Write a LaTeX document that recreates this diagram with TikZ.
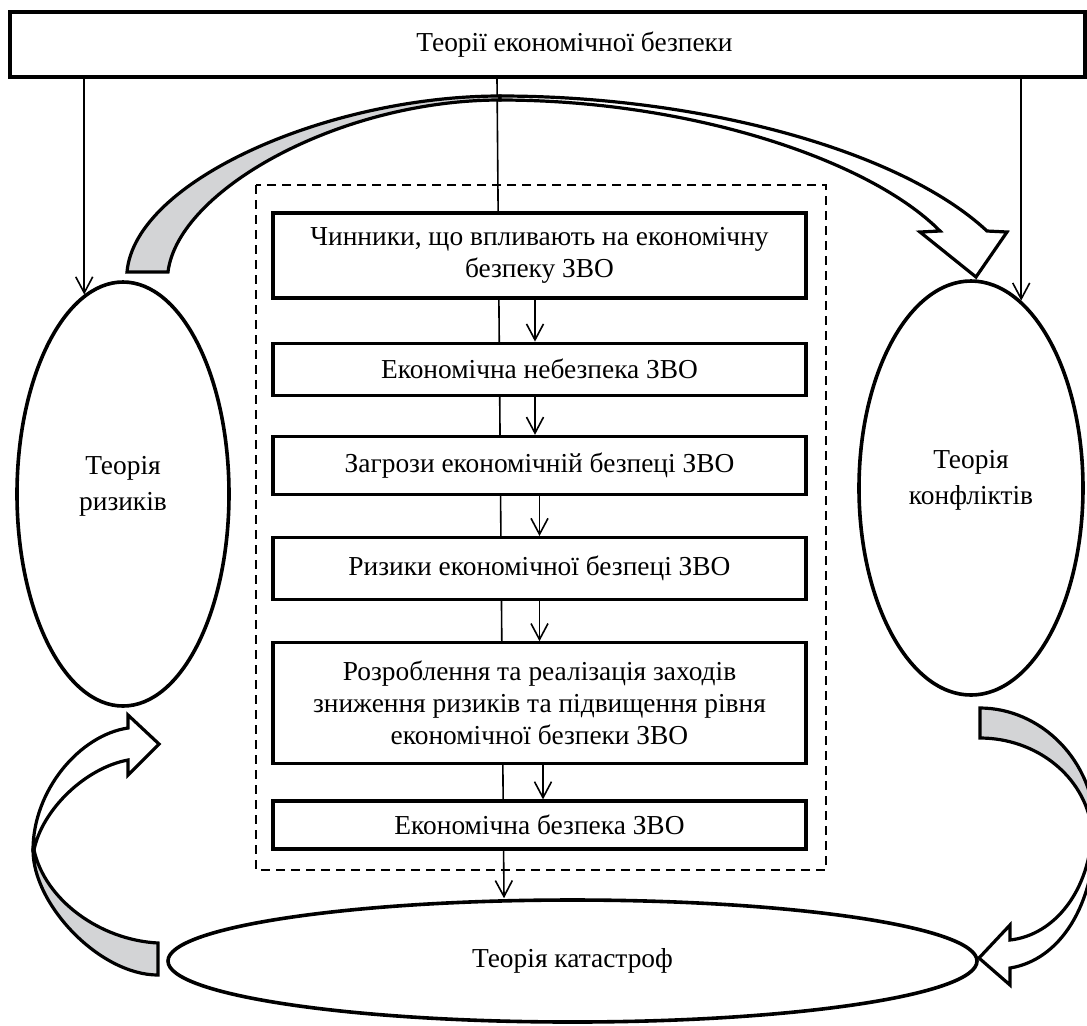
\documentclass[tikz,border=0pt]{standalone}
\usepackage{fontspec}
\setmainfont{Liberation Serif}
\usetikzlibrary{arrows.meta, positioning, shapes.geometric, calc, backgrounds}
\definecolor{backface}{RGB}{211,212,214}

\begin{document}
\begin{tikzpicture}[
    x=0.5pt, y=-0.5pt,
    font=\fontsize{13.7}{16}\selectfont,
    stagebox/.style={
        draw, rectangle, line width=1.6pt, fill=white, align=center,
        minimum width=266.5pt, inner sep=0pt
    },
    widebox/.style={
        draw, rectangle, line width=1.6pt, align=center,
        minimum width=537.5pt, minimum height=32.5pt
    },
    theory/.style={
        draw, ellipse, line width=1.8pt, inner sep=0pt
    },
    theorytext/.style={
        align=center, yshift=4pt, font=\fontsize{13.7}{18}\selectfont
    },
    line/.style={draw, -{Straight Barb[length=8pt,width=8.5pt]}, line width=0.8pt},
    frame/.style={draw, dash pattern=on 4.5pt off 3pt, line width=0.6pt},
    blockback/.style={draw, line width=1.6pt, fill=backface},
    blockfront/.style={draw, line width=1.6pt, fill=white}
]
    \useasboundingbox (0,0) rectangle (1087,1025);

    \node[widebox] (Theories) at (547.5,44.5) {\hspace*{27pt}Теорії економічної безпеки};

    % main chain inside the dashed frame
    \node[stagebox, minimum height=42.5pt] (Factors) at (539.5,255.5) {Чинники, що впливають на економічну\\безпеку ЗВО};
    \node[stagebox, minimum height=26pt, below=21pt of Factors] (Danger) {Економічна небезпека ЗВО};
    \node[stagebox, minimum height=29pt, below=19pt of Danger] (Threats) {Загрози економічній безпеці ЗВО};
    \node[stagebox, minimum height=31pt, below=20pt of Threats] (Risks) {Ризики економічної безпеці ЗВО};
    \node[stagebox, minimum height=60.5pt, below=20pt of Risks] (Measures) {Розроблення та реалізація заходів\\зниження ризиків та підвищення рівня\\економічної безпеки ЗВО};
    \node[stagebox, minimum height=24pt, below=17pt of Measures] (Security) {Економічна безпека ЗВО};

    \node[theory, minimum width=106pt, minimum height=212pt,
          label={[theorytext]center:Теорія\\ризиків}] (RiskTheory) at (123,494) {};
    \node[theory, minimum width=112pt, minimum height=207pt,
          label={[theorytext]center:Теорія\\конфліктів}] (ConflictTheory) at (971,488) {};
    \node[theory, minimum width=404.5pt, minimum height=61pt] (CatastropheTheory) at (572.5,961) {Теорія катастроф};

    \draw[frame] (256,185) rectangle (826,870);

    \begin{scope}[on background layer]
        \draw[line] ([xshift=-25.25pt]Theories.south) -- ([xshift=-34.25pt]CatastropheTheory.north);
    \end{scope}
    \draw[line] (Theories.south -| RiskTheory.101) -- (RiskTheory.101);
    \draw[line] (Theories.south -| ConflictTheory.75) -- (ConflictTheory.75);
    \draw[line] ([xshift=-2.25pt]Factors.south) -- ([xshift=-2.25pt]Danger.north);
    \draw[line] ([xshift=-2.25pt]Danger.south) -- ([xshift=-2.25pt]Threats.north);
    \draw[line] (Threats.south) -- (Risks.north);
    \draw[line] (Risks.south) -- (Measures.north);
    \draw[line] ([xshift=1.75pt]Measures.south) -- ([xshift=1.75pt]Security.north);

    % curved block arrows
    \draw[blockback] (127,272) .. controls (135,180) and (330,96) .. (500,96)
        -- (500,100) .. controls (340,100) and (178,190) .. (168,272) -- cycle;
    \draw[blockfront] (500,96) .. controls (700,96) and (900,150) .. (987,231)
        -- (1007,232) -- (976,277) -- (920,232) -- (940,231)
        .. controls (870,160) and (690,100) .. (500,100) -- cycle;

    \draw[blockback] (158,975) .. controls (100,975) and (33,905) .. (33,850)
        -- (34,850) .. controls (45,900) and (100,940) .. (158,943) -- cycle;
    \draw[blockfront] (33,850) .. controls (33,790) and (80,735) .. (128,728)
        -- (128,715) -- (159,744) -- (128,775) -- (128,760)
        .. controls (85,768) and (42,810) .. (34,850) -- cycle;

    \draw[blockback] (980,708) .. controls (1040,708) and (1095,760) .. (1095,830)
        -- (1092,830) .. controls (1085,775) and (1035,738) .. (980,738) -- cycle;
    \draw[blockfront] (1095,830) .. controls (1095,905) and (1060,960) .. (1010,968)
        -- (1010,985) -- (979,958) -- (1010,925) -- (1010,940)
        .. controls (1055,935) and (1090,890) .. (1092,830) -- cycle;
\end{tikzpicture}
\end{document}
